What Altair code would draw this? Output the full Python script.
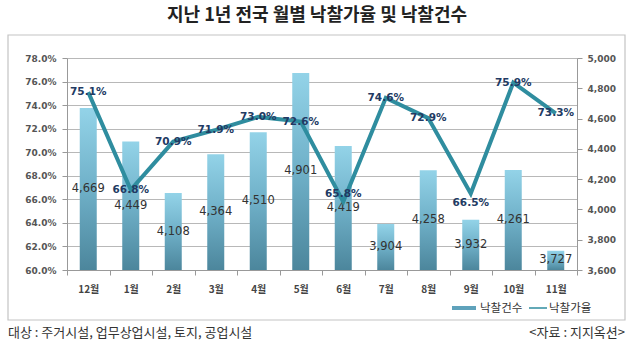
import altair as alt
import pandas as pd

months = ["12월", "1월", "2월", "3월", "4월", "5월", "6월", "7월", "8월", "9월", "10월", "11월"]
rates = [75.1, 66.8, 70.9, 71.9, 73.0, 72.6, 65.8, 74.6, 72.9, 66.5, 75.9, 73.3]
counts = [4669, 4449, 4108, 4364, 4510, 4901, 4419, 3904, 4258, 3932, 4261, 3727]

df = pd.DataFrame({"month": months, "rate": rates, "count": counts})
dummy = pd.DataFrame({"a": [0]})

W, H = 510, 212
KR = "Noto Sans CJK KR"
NUM = "DejaVu Sans"

x = alt.X("month:N", sort=months,
          scale=alt.Scale(paddingInner=0, paddingOuter=0),
          axis=alt.Axis(title=None, labelAngle=0, labelFont=KR, labelFontSize=10,
                        labelFontWeight="bold", labelColor="#444", tickBand="extent",
                        tickSize=5, tickColor="#999", domainColor="#999",
                        labelPadding=9, grid=False))

bar_grad = alt.Gradient(gradient="linear", x1=0, x2=0, y1=0, y2=1,
                        stops=[alt.GradientStop(color="#93d3e8", offset=0),
                               alt.GradientStop(color="#6fb0c8", offset=0.5),
                               alt.GradientStop(color="#4c869c", offset=1)])

cscale = alt.Scale(domain=[3600, 5000], nice=False, zero=False)
rscale = alt.Scale(domain=[60, 78], nice=False, zero=False)

caxis = alt.Axis(title=None, orient="right", values=list(range(3600, 5001, 200)),
                 labelExpr="format(datum.value, ',')", labelFont=NUM, labelFontSize=9,
                 labelFontWeight="bold",
                 labelColor="#555", grid=False, tickSize=5, tickColor="#999",
                 domainColor="#999", labelPadding=5, labelOverlap=False)
raxis = alt.Axis(title=None, orient="left", values=list(range(60, 79, 2)),
                 labelExpr="format(datum.value, '.1f') + '%'",
                 labelFont=NUM, labelFontSize=9, labelFontWeight="bold",
                 labelColor="#555", grid=True, gridColor="#b8b8b8",
                 tickSize=5, tickColor="#999", domainColor="#999", labelPadding=6,
                 labelOverlap=False)

bars = alt.Chart(df).mark_bar(size=17, color=bar_grad).encode(
    x=x, y=alt.Y("count:Q", scale=cscale, axis=caxis), y2=alt.datum(3600))
bar_text = alt.Chart(df).transform_calculate(mid="(datum.count + 3600) / 2").mark_text(
    font=NUM, fontSize=11.5, color="#333").encode(
    x=x, y=alt.Y("mid:Q", scale=cscale, axis=caxis),
    text=alt.Text("count:Q", format=","))

line = alt.Chart(df).mark_line(color="#2f8d9f", strokeWidth=4).encode(
    x=x, y=alt.Y("rate:Q", scale=rscale, axis=raxis))


def rate_labels(filt, dy):
    return alt.Chart(df).transform_filter(filt).transform_calculate(
        lbl="format(datum.rate, '.1f') + '%'").mark_text(
        font=NUM, fontSize=10.5, fontWeight="bold", color="#223a63", dy=dy).encode(
        x=x, y=alt.Y("rate:Q", scale=rscale, axis=raxis), text="lbl:N")


lt_main = rate_labels("datum.month != '6월' && datum.month != '9월'", 0)
lt_up = rate_labels("datum.month == '6월'", -8)
lt_down = rate_labels("datum.month == '9월'", 10)

bar_layer = alt.layer(bars, bar_text)
line_layer = alt.layer(line, lt_main, lt_up, lt_down)

# decorations
base = alt.Chart(dummy)
box = base.mark_rect(fill=None, stroke="#c4c4c4", strokeWidth=1.2).encode(
    x=alt.value(-59), x2=alt.value(558), y=alt.value(-23), y2=alt.value(262))
title = base.mark_text(text="지난 1년 전국 월별 낙찰가율 및 낙찰건수", font=KR, fontSize=18,
                       fontWeight="bold", color="#222", align="center", baseline="middle").encode(
    x=alt.value(250), y=alt.value(-42))
leg_rect = base.mark_rect(fill="#5fa2bb").encode(
    x=alt.value(385), x2=alt.value(409), y=alt.value(248), y2=alt.value(252))
leg_t1 = base.mark_text(text="낙찰건수", font=KR, fontSize=11.5, color="#333",
                        align="left", baseline="middle").encode(x=alt.value(413), y=alt.value(251))
leg_line = base.mark_rule(color="#2f8d9f", strokeWidth=1.5).encode(
    x=alt.value(462), x2=alt.value(480), y=alt.value(250))
leg_t2 = base.mark_text(text="낙찰가율", font=KR, fontSize=11.5, color="#333",
                        align="left", baseline="middle").encode(x=alt.value(482), y=alt.value(251))
foot_l = base.mark_text(text="대상 : 주거시설, 업무상업시설, 토지, 공업시설", font=KR, fontSize=13,
                        color="#333", align="left", baseline="middle").encode(
    x=alt.value(-59), y=alt.value(275))
foot_r = base.mark_text(text="<자료 : 지지옥션>", font=KR, fontSize=13,
                        color="#333", align="right", baseline="middle").encode(
    x=alt.value(558), y=alt.value(275))

chart = alt.layer(bar_layer, line_layer, box, title, leg_rect, leg_t1, leg_line, leg_t2,
                  foot_l, foot_r).resolve_scale(y="independent").properties(
    width=W, height=H,
    autosize=alt.AutoSizeParams(type="none"),
    padding={"left": 67, "top": 58, "right": 53, "bottom": 76},
    background="white",
).configure_view(stroke=None)

chart.save("out.html", embed_options={"renderer": "svg", "actions": False})
